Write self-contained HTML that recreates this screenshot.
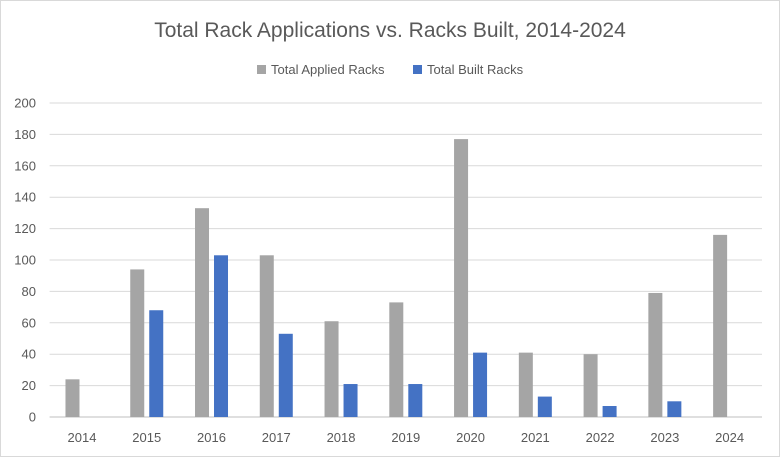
<!DOCTYPE html>
<html><head><meta charset="utf-8"><style>
body{margin:0;background:#fff;}
svg{display:block;font-family:"Liberation Sans",sans-serif;}
</style></head><body>
<svg id="chart" width="780" height="457">
<rect x="0.5" y="0.5" width="779" height="456" fill="#fff" stroke="#d9d9d9"/>
<text x="390" y="37" text-anchor="middle" font-size="21" fill="#595959">Total Rack Applications vs. Racks Built, 2014-2024</text>
<g>
<rect x="257" y="65" width="9" height="9" fill="#a5a5a5"/>
<text x="271" y="74" font-size="13" fill="#595959">Total Applied Racks</text>
<rect x="413" y="65" width="9" height="9" fill="#4472c4"/>
<text x="427" y="74" font-size="13" fill="#595959">Total Built Racks</text>
</g>
<g id="grid"></g><g id="bars"></g><g id="xlabels"></g>
</svg>
<script>
const categories=["2014","2015","2016","2017","2018","2019","2020","2021","2022","2023","2024"];
const applied=[24,94,133,103,61,73,177,41,40,79,116];
const built=[0,68,103,53,21,21,41,13,7,10,0];
const yTicks=[0,20,40,60,80,100,120,140,160,180,200];
const NS="http://www.w3.org/2000/svg";
const left=49.6,right=762,y0=417,y200=103;
const step=(right-left)/categories.length;
function y(v){return y0-(v/200)*(y0-y200);}
function xc(i){return left+step*(i+0.5);}
function mk(tag,attrs,parent){const e=document.createElementNS(NS,tag);for(const k in attrs)e.setAttribute(k,attrs[k]);document.getElementById(parent).appendChild(e);return e;}
yTicks.forEach(t=>{
 const l=mk('line',{x1:left,x2:right,y1:y(t),y2:y(t),stroke:t===0?'#bfbfbf':'#d9d9d9','stroke-width':1},'grid');
 
 
 const tx=mk('text',{x:36,y:y(t)+4.5,'text-anchor':'end','font-size':13,fill:'#595959'},'grid');
 tx.textContent=t;
 
 
});
const bw=14,gap=5;
categories.forEach((c,i)=>{
 const cx=xc(i);
 const a=mk('rect',{x:cx-gap/2-bw,y:y(applied[i]),width:bw,height:y0-y(applied[i]),fill:'#a5a5a5'},'bars');
 
 
 const b=mk('rect',{x:cx+gap/2,y:y(built[i]),width:bw,height:y0-y(built[i]),fill:'#4472c4'},'bars');
 
 
 const t=mk('text',{x:cx,y:442,'text-anchor':'middle','font-size':13,fill:'#595959'},'xlabels');
 t.textContent=c;
 
 
});
</script>
</body></html>
